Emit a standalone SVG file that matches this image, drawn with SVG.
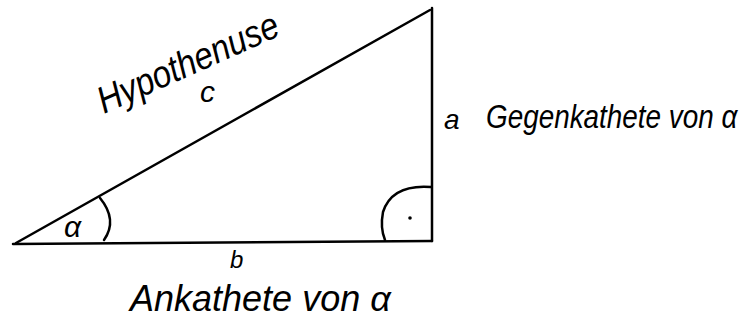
<svg xmlns="http://www.w3.org/2000/svg" width="753" height="334" viewBox="0 0 753 334">
<style>
.ln{stroke:#000;stroke-width:2.5;fill:none;stroke-linecap:round}
.t{font-family:"Liberation Sans",Arial,sans-serif;fill:#000;font-style:italic}
</style>
<rect width="753" height="334" fill="#fff"/>
<g id="triangle">
<path class="ln" d="M13,244 L432,241"/>
<path class="ln" d="M432,8 L432,241"/>
<path class="ln" d="M16,243 L430,10"/>
</g>
<g id="angle-alpha">
<path class="ln" d="M100,198 Q118,220 104,240"/>
<text class="t" x="64" y="237" font-size="30">α</text>
</g>
<g id="angle-right">
<path class="ln" d="M431,187 Q392,184 383,212 Q380,228 385,240"/>
<circle cx="410" cy="218" r="1.8" fill="#000"/>
</g>
<g id="labels">
<text class="t" transform="translate(104,114) rotate(-24) scale(0.87,1)" font-size="38">Hypothenuse</text>
<text class="t" x="200" y="102" font-size="30">c</text>
<text class="t" x="444" y="129" font-size="28">a</text>
<text class="t" transform="translate(486,128) scale(0.82,1)" font-size="34">Gegenkathete von α</text>
<text class="t" x="230" y="268" font-size="24">b</text>
<text class="t" x="130" y="311" font-size="36">Ankathete von α</text>
</g>
</svg>
